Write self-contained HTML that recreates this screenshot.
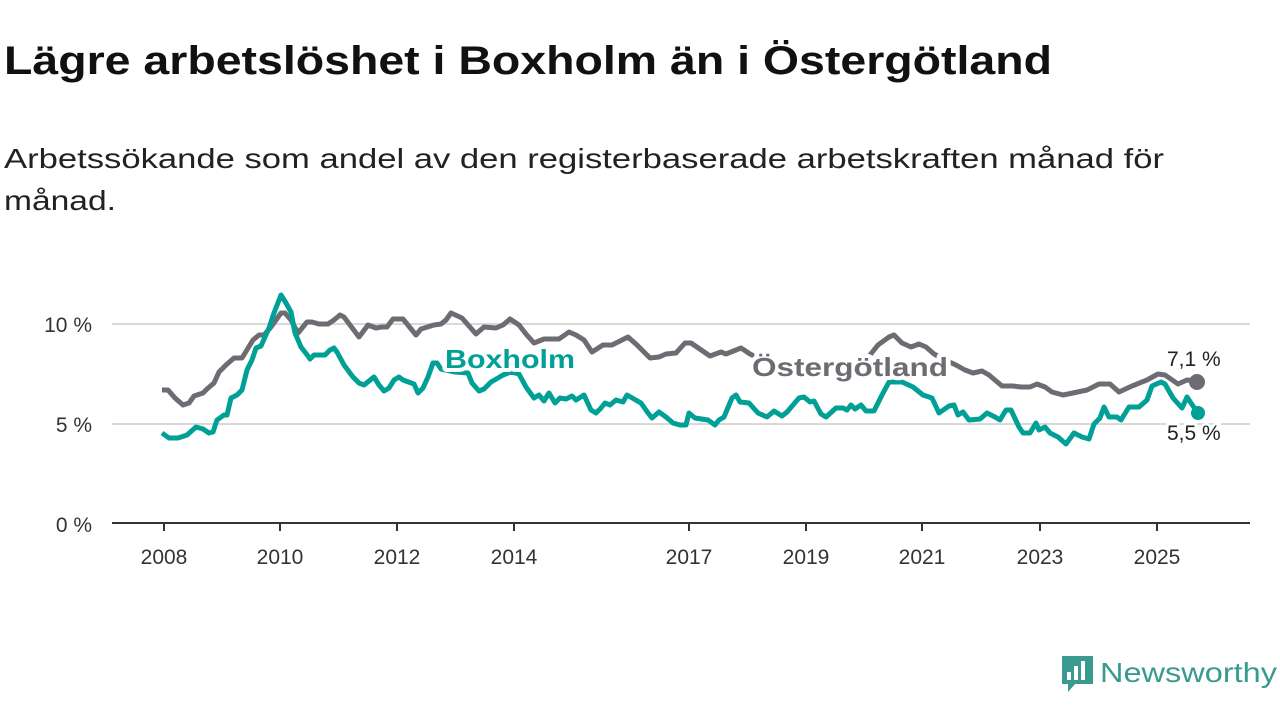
<!DOCTYPE html>
<html><head><meta charset="utf-8"><style>
html,body{margin:0;padding:0;background:#fff;}
svg{display:block;font-family:"Liberation Sans",sans-serif;}
</style></head><body>
<svg width="1280" height="720" viewBox="0 0 1280 720" xmlns="http://www.w3.org/2000/svg">
<text x="4" y="74" font-size="40" font-weight="bold" fill="#111" textLength="1048" lengthAdjust="spacingAndGlyphs">Lägre arbetslöshet i Boxholm än i Östergötland</text>
<text x="4" y="168" font-size="28" fill="#222" textLength="1160" lengthAdjust="spacingAndGlyphs">Arbetssökande som andel av den registerbaserade arbetskraften månad för</text>
<text x="4" y="210" font-size="28" fill="#222" textLength="112" lengthAdjust="spacingAndGlyphs">månad.</text>

<g stroke="#d9d9d9" stroke-width="2">
<line x1="112" y1="324" x2="1250" y2="324"/>
<line x1="112" y1="424" x2="1250" y2="424"/>
</g>
<g font-size="21" fill="#333" text-anchor="end">
<text x="92" y="332">10 %</text>
<text x="92" y="432">5 %</text>
<text x="92" y="532">0 %</text>
</g>
<g stroke="#333" stroke-width="2">
<line x1="112" y1="523" x2="1250" y2="523"/>
<line x1="164" y1="523" x2="164" y2="531"/>
<line x1="280" y1="523" x2="280" y2="531"/>
<line x1="397" y1="523" x2="397" y2="531"/>
<line x1="514" y1="523" x2="514" y2="531"/>
<line x1="689" y1="523" x2="689" y2="531"/>
<line x1="806" y1="523" x2="806" y2="531"/>
<line x1="922" y1="523" x2="922" y2="531"/>
<line x1="1040" y1="523" x2="1040" y2="531"/>
<line x1="1157" y1="523" x2="1157" y2="531"/>
</g>
<g font-size="21" fill="#333" text-anchor="middle">
<text x="164" y="564">2008</text><text x="280" y="564">2010</text><text x="397" y="564">2012</text>
<text x="514" y="564">2014</text><text x="689" y="564">2017</text><text x="806" y="564">2019</text>
<text x="922" y="564">2021</text><text x="1040" y="564">2023</text><text x="1157" y="564">2025</text>
</g>

<polyline fill="none" stroke="#6e6c73" stroke-width="5" stroke-linejoin="round" points="162,390 168,390 175,398 183,405 189,403 194,396 203,393 207,389 214,383 219,372 226,365 234,358 242,358 253,340 259,335 264,335 271,327 281,313 285,313 291,320 298,333 307,322 312,322 319,324 328,324 334,320 340,315 344,317 359,337 368,325 376,328 382,327 387,327 393,319 403,319 416,335 421,329 434,325 441,324 446,320 451,313 462,318 476,334 484,327 496,328 503,325 510,319 519,325 526,334 534,343 544,339 559,339 569,332 576,335 584,340 592,352 603,345 612,345 628,337 637,345 650,358 659,357 666,354 676,353 685,343 691,343 710,356 721,352 726,354 741,348 750,354 770,364 800,370 830,370 862,365 878,345 889,337 894,335 902,343 911,347 919,344 926,347 934,354 945,360 956,365 965,370 973,373 982,371 989,375 1002,386 1013,386 1021,387 1030,387 1037,384 1045,387 1052,392 1063,395 1073,393 1087,390 1099,384 1110,384 1119,392 1132,386 1147,380 1158,374 1165,375 1178,384 1187,380 1197,381"/>
<circle cx="1197" cy="382" r="8" fill="#6e6c73"/>

<polyline fill="none" stroke="#00a096" stroke-width="5" stroke-linejoin="round" points="162,433 169,438 178,438 187,435 196,427 203,429 209,433 213,432 217,420 224,415 227,415 231,398 237,395 242,390 247,370 252,360 256,348 261,346 269,328 274,313 281,295 286,303 291,312 295,333 301,347 308,356 310,359 314,355 325,355 330,350 334,348 337,352 344,365 353,377 359,383 364,385 374,377 379,385 384,391 389,388 394,380 399,377 403,380 414,384 418,393 423,388 428,377 433,363 437,363 441,369 455,372 468,373 472,383 479,391 484,389 491,382 498,378 503,375 511,372 519,374 526,387 534,398 539,395 544,401 549,393 555,403 560,398 566,399 572,396 576,400 584,395 591,410 596,413 601,408 605,403 610,405 616,400 623,402 627,395 634,399 641,403 648,413 652,418 659,412 666,417 673,423 680,425 686,425 689,413 695,418 708,420 715,425 719,420 724,417 732,398 736,395 740,402 749,403 758,413 767,417 774,411 782,416 787,412 799,398 804,397 810,402 814,401 821,414 826,417 836,408 843,408 847,410 851,405 855,409 861,405 866,411 874,411 882,395 889,382 902,382 913,387 923,395 932,398 939,413 949,406 954,405 958,415 963,412 969,420 980,419 987,413 995,417 1000,420 1006,410 1011,410 1019,427 1023,433 1030,433 1036,423 1039,430 1045,427 1050,433 1058,437 1066,444 1074,433 1082,437 1089,439 1094,424 1100,418 1104,407 1109,417 1117,417 1121,420 1129,407 1139,407 1147,400 1152,386 1161,382 1165,384 1173,398 1182,408 1187,397 1193,406 1198,413"/>
<circle cx="1198" cy="413" r="7" fill="#00a096"/>

<g font-size="26" font-weight="bold" stroke="#fff" stroke-width="8" paint-order="stroke" stroke-linejoin="round">
<text x="445" y="368" fill="#00a096" textLength="130" lengthAdjust="spacingAndGlyphs">Boxholm</text>
<text x="752" y="376" fill="#6e6c73" textLength="196" lengthAdjust="spacingAndGlyphs">Östergötland</text>
</g>
<g font-size="21" fill="#222" stroke="#fff" stroke-width="5" paint-order="stroke">
<text x="1167" y="366">7,1 %</text>
<text x="1167" y="440">5,5 %</text>
</g>

<g>
<path d="M1062,656 h31 v28 h-18 l-7,8 v-8 h-6 z" fill="#3a9a8f"/>
<rect x="1067" y="672" width="4" height="8" fill="#fff"/>
<rect x="1074" y="666" width="4" height="14" fill="#fff"/>
<rect x="1081" y="661" width="4" height="19" fill="#fff"/>
<text x="1100" y="682" font-size="28" fill="#3a9a8f" textLength="177" lengthAdjust="spacingAndGlyphs">Newsworthy</text>
</g>
</svg>
</body></html>
